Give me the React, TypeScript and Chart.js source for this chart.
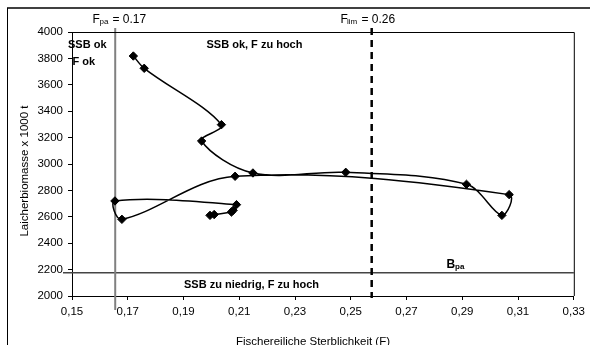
import React, { useEffect, useRef } from "react";
import { Chart, registerables } from "chart.js";

Chart.register(...registerables);

// Fishing mortality (F) and spawning stock biomass (x 1000 t), in path order
const fValues = [0.172, 0.1759, 0.2036, 0.1965, 0.2149, 0.2482, 0.2915, 0.3042, 0.3068, 0.2085, 0.1679, 0.1654, 0.209, 0.2078, 0.2072, 0.201, 0.1995];
const ssbValues = [3818, 3725, 3298, 3174, 2932, 2937, 2846, 2611, 2768, 2907, 2581, 2720, 2692, 2649, 2636, 2617, 2611];

const xTickMin = 0.15;
const xTickMax = 0.33;
const xTickStep = 0.02;
const yTickMin = 2000;
const yTickMax = 4000;
const yTickStep = 200;

const FPA_LINE = 0.1655;
const FLIM_LINE = 0.2575;
const BPA_LINE = 2176;

const FONT = "'Liberation Sans', Arial, sans-serif";

const overlayPlugin = {
  id: "overlay",
  beforeDatasetsDraw(chart: any) {
    const { ctx, scales, chartArea } = chart;
    const xs = scales.x;
    const ys = scales.y;
    ctx.save();
    // Bpa horizontal line
    const yb = ys.getPixelForValue(BPA_LINE);
    ctx.strokeStyle = "#444";
    ctx.lineWidth = 1.5;
    ctx.beginPath();
    ctx.moveTo(63, yb);
    ctx.lineTo(chartArea.right, yb);
    ctx.stroke();
    // Fpa vertical line
    const xp = xs.getPixelForValue(FPA_LINE);
    ctx.strokeStyle = "#808080";
    ctx.lineWidth = 2;
    ctx.beginPath();
    ctx.moveTo(xp, 28);
    ctx.lineTo(xp, 310);
    ctx.stroke();
    // Flim dashed line
    const xl = xs.getPixelForValue(FLIM_LINE);
    ctx.strokeStyle = "#000";
    ctx.lineWidth = 2.5;
    ctx.setLineDash([7, 5]);
    ctx.beginPath();
    ctx.moveTo(xl, 28);
    ctx.lineTo(xl, 298);
    ctx.stroke();
    ctx.setLineDash([]);
    ctx.restore();
  },
  afterDraw(chart: any) {
    const { ctx, chartArea } = chart;
    ctx.save();
    // plot box
    ctx.strokeStyle = "#000";
    ctx.lineWidth = 1;
    ctx.beginPath();
    ctx.moveTo(chartArea.left, chartArea.top + 0.5);
    ctx.lineTo(chartArea.right + 0.5, chartArea.top + 0.5);
    ctx.lineTo(chartArea.right + 0.5, chartArea.bottom);
    ctx.stroke();
    // outer frame
    ctx.strokeStyle = "#404040";
    ctx.lineWidth = 2;
    ctx.beginPath();
    ctx.moveTo(7, 8);
    ctx.lineTo(590, 8);
    ctx.stroke();
    ctx.lineWidth = 1;
    ctx.strokeStyle = "#000";
    ctx.beginPath();
    ctx.moveTo(7.5, 8);
    ctx.lineTo(7.5, 345);
    ctx.stroke();

    ctx.fillStyle = "#000";
    ctx.textBaseline = "middle";
    ctx.textAlign = "left";
    // F_pa label
    ctx.font = `12px ${FONT}`;
    ctx.fillText("F", 92.5, 20);
    ctx.font = `8px ${FONT}`;
    ctx.fillText("pa", 99.5, 22);
    ctx.font = `12px ${FONT}`;
    ctx.fillText("= 0.17", 112.5, 20);
    // F_lim label
    ctx.fillText("F", 340.5, 20);
    ctx.font = `8px ${FONT}`;
    ctx.fillText("lim", 347, 21.5);
    ctx.font = `12px ${FONT}`;
    ctx.fillText("= 0.26", 361.5, 20);

    // zone labels
    ctx.font = `bold 11px ${FONT}`;
    ctx.fillText("SSB ok", 68, 44.5);
    ctx.fillText("F ok", 72.5, 62);
    ctx.fillText("SSB ok, F zu hoch", 206.5, 44.5);
    ctx.fillText("SSB zu niedrig, F zu hoch", 184, 284.5);
    ctx.font = `bold 12px ${FONT}`;
    ctx.fillText("B", 446.5, 264.5);
    ctx.font = `bold 8px ${FONT}`;
    ctx.fillText("pa", 455, 267);

    // axis titles
    ctx.font = `11.5px ${FONT}`;
    ctx.textAlign = "center";
    ctx.fillText("Fischereiliche Sterblichkeit (F)", 313, 341.5);
    ctx.translate(25, 171);
    ctx.rotate(-Math.PI / 2);
    ctx.fillText("Laicherbiomasse x 1000 t", 0, 0);
    ctx.restore();
  },
};

export default function App() {
  const canvasRef = useRef<HTMLCanvasElement | null>(null);

  useEffect(() => {
    if (!canvasRef.current) return;
    const points = fValues.map((f, i) => ({ x: f, y: ssbValues[i] }));
    const chart = new Chart(canvasRef.current, {
      type: "scatter",
      data: {
        datasets: [
          {
            data: points,
            showLine: true,
            tension: 0.35,
            borderColor: "#000",
            borderWidth: 1.5,
            pointStyle: "rectRot",
            pointRadius: 4.2,
            pointBackgroundColor: "#000",
            pointBorderColor: "#000",
            pointBorderWidth: 1,
            clip: false as any,
          },
        ],
      },
      options: {
        responsive: false,
        animation: false,
        layout: { padding: { left: 0, top: 32, right: 11, bottom: 0 } },
        plugins: { legend: { display: false }, tooltip: { enabled: false } },
        scales: {
          x: {
            type: "linear",
            min: xTickMin,
            max: xTickMax,
            afterFit: (scale: any) => {
              scale.height = 49;
            },
            ticks: {
              stepSize: xTickStep,
              color: "#000",
              padding: 5,
              font: { family: FONT, size: 11.5 },
              maxRotation: 0,
              callback: (v: any) => Number(v).toFixed(2).replace(".", ","),
            },
            grid: { display: true, drawOnChartArea: false, drawTicks: true, tickLength: 4, color: "#000" },
            border: { display: true, color: "#000", width: 1 },
          },
          y: {
            type: "linear",
            min: yTickMin,
            max: yTickMax,
            afterFit: (scale: any) => {
              scale.width = 72;
            },
            ticks: {
              stepSize: yTickStep,
              color: "#000",
              padding: 5,
              font: { family: FONT, size: 11.5 },
              callback: (v: any) => String(v),
            },
            grid: { display: true, drawOnChartArea: false, drawTicks: true, tickLength: 4, color: "#000" },
            border: { display: true, color: "#000", width: 1 },
          },
        },
      },
      plugins: [overlayPlugin],
    });
    return () => chart.destroy();
  }, []);

  return (
    <div style={{ position: "absolute", left: 0, top: 0, width: 590, height: 345, background: "#fff" }}>
      <canvas ref={canvasRef} width={590} height={345} style={{ width: 590, height: 345 }} />
    </div>
  );
}
